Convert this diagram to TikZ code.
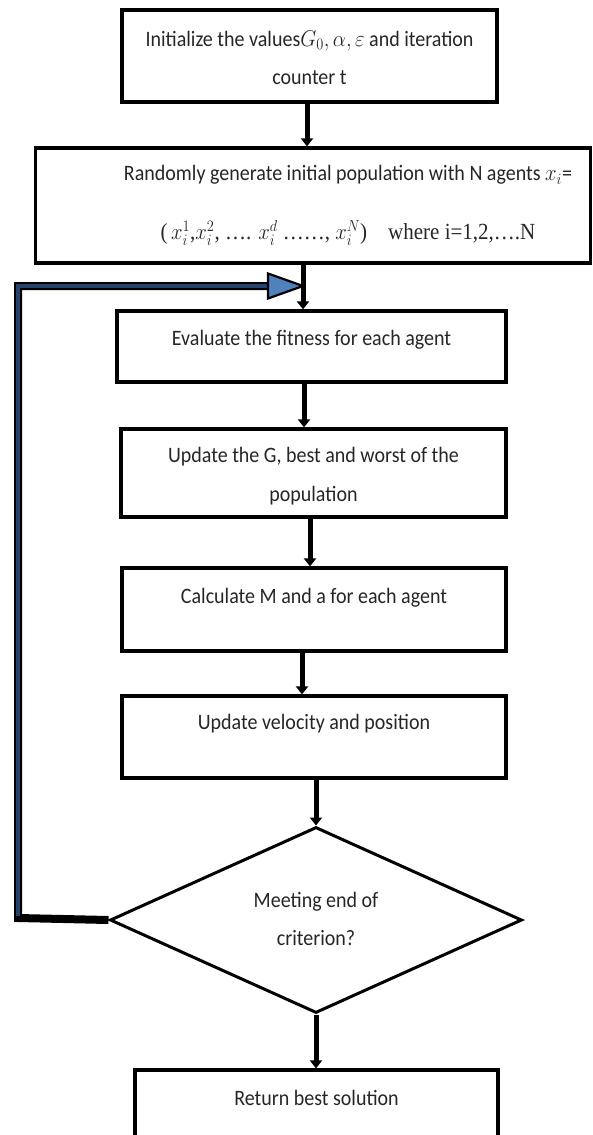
\documentclass[tikz,border=0pt]{standalone}
\usepackage{fontspec}
\setmainfont{Carlito}
\newfontfamily\tnr{Liberation Serif}
\usetikzlibrary{arrows.meta,shapes.geometric,calc}
\definecolor{loopblue}{HTML}{4F81BD}
\definecolor{loopinner}{HTML}{27436B}
\begin{document}
\begin{tikzpicture}[x=1pt,y=1pt,
  box/.style 2 args={draw=black, line width=3.2pt, minimum width=#1, minimum height=#2, inner sep=0pt},
  txt/.style={font=\fontsize{20}{35}\selectfont, text=black!85, align=center, inner sep=0pt, yscale=1.1, transform shape},
  conn/.style={line width=5pt, -{Triangle[length=8pt,width=12pt]}}
]
\useasboundingbox (0,0) rectangle (593,-1135);
\clip (0,0) rectangle (593,-1135);

% boxes
\node[box={375}{92}] (b1) at (309.5,-56) {};
\node[txt] (t1) at (309.5,-58) {Initialize the values$G_0,\alpha,\varepsilon$ and iteration\\counter t};

\node[box={555}{115}] (b2) at (313,-205.5) {};
\node[txt] (t2a) at (348,-175) {Randomly generate initial population with N agents $x_i$=};
\node[txt, font=\tnr\fontsize{21}{24}\selectfont] (t2b) at (348,-233) {(\,$x_i^1$,$x_i^2$, …. $x_i^d$ ……, $x_i^N$)\quad where i=1,2,….N};

\node[box={389}{71}] (b3) at (311.5,-346.5) {};
\node[txt] (t3) at (311.5,-340) {Evaluate the fitness for each agent};

\node[box={385}{88}] (b4) at (313.5,-473) {};
\node[txt] (t4) at (313.5,-476) {Update the G, best and worst of the\\population};

\node[box={384}{83}] (b5) at (314,-609.5) {};
\node[txt] (t5) at (314,-598) {Calculate M and a for each agent};

\node[box={384}{82}] (b6) at (314,-737) {};
\node[txt] (t6) at (314,-724) {Update velocity and position};

\node[diamond, draw=black, line width=3pt, minimum width=412, minimum height=186, inner sep=0pt] (dia) at (316,-920) {};
\node[txt] (t7) at (316,-919) {Meeting end of\\criterion?};

\node[box={363}{75}] (b7) at (316.5,-1107.5) {};
\node[txt] (t8) at (316.5,-1098) {Return best solution};

% connectors
\draw[conn] ([xshift=-2.5]b1.south) -- ([xshift=-2.5]b1.south |- b2.north);
\draw[conn] ([xshift=-10]b2.south) -- ([xshift=-10]b2.south |- b3.north);
\draw[conn] ([xshift=-7.5]b3.south) -- ([xshift=-7.5]b3.south |- b4.north);
\draw[conn] ([xshift=-3.5]b4.south) -- ([xshift=-3.5]b4.south |- b5.north);
\draw[conn] ([xshift=-12]b5.south) -- ([xshift=-12]b5.south |- b6.north);
\draw[conn] (b6.south -| dia.north) -- (dia.north);
\draw[conn] (dia.south) -- (dia.south |- b7.north);

% loop back
\coordinate (lc) at (18,-918);
\coordinate (lt) at (18,-286);
\coordinate (lj) at (303,-286);
\coordinate (lb) at (268,-286);
\draw[line width=8pt, black, line join=miter] (dia.west) -- (lc) -- (lt) -- (lb);
\draw[line width=3.5pt, loopinner, line join=miter] ($(lc)+(0,2)$) -- (lt) -- (lb);
\filldraw[fill=loopblue, draw=black, line width=2.2pt, line join=miter] (lj) -- ($(lb)+(0,12.5)$) -- ($(lb)+(0,-12.5)$) -- cycle;
\end{tikzpicture}
\end{document}
